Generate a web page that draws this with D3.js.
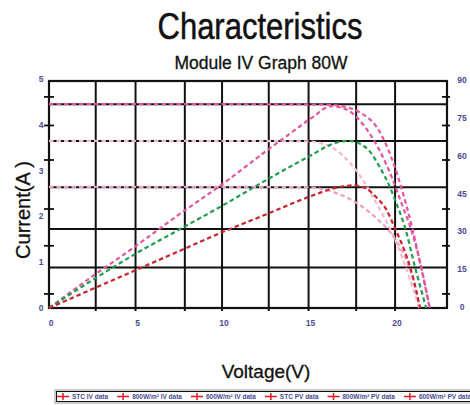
<!DOCTYPE html>
<html>
<head>
<meta charset="utf-8">
<script src="https://cdn.jsdelivr.net/npm/d3@7"></script>
<style>
  body { margin: 0; background: #fff; }
  text { font-family: "Liberation Sans", Arial, sans-serif; }
</style>
</head>
<body>
<div id="chart"></div>
<script>
const width = 470, height = 405;

// voltage (V) -> current (A)
const ivStc = [[0,4.49],[8,4.49],[16,4.48],[17,4.44],[18,4.3],[19,3.95],[19.8,3.3],[20.4,2.6],[21.0,1.75],[21.5,0.9],[22.0,0]];
const iv800 = [[0,3.68],[8,3.68],[15,3.67],[16,3.6],[17,3.35],[18,2.9],[19,2.25],[20,1.5],[20.8,0.7],[21.4,0]];
const iv600 = [[0,2.67],[8,2.67],[15,2.66],[16,2.6],[17,2.47],[18,2.26],[19,1.95],[20,1.52],[20.7,1.0],[21.2,0.4],[21.4,0]];
// voltage (V) -> power (W)
const pvStc = [[0,0],[2.5,12.5],[5,24.5],[7.5,37],[10,49],[12.5,62],[14,69.5],[15.2,75.5],[16.3,80],[17.1,79],[17.8,75.5],[18.5,69.5],[19.1,62.5],[19.8,52],[20.4,41],[21,29.5],[21.5,16.5],[22,0]];
const pv800 = [[0,0],[2.5,11],[5,21.5],[7.5,31],[10,40.5],[12.5,50.5],[15,60],[16.5,65.3],[17.3,66.3],[18,65],[18.55,62],[19.1,56],[19.7,48],[20.0,42.8],[20.6,31.3],[21.16,16],[21.8,0]];
const pv600 = [[0,0],[2.5,7.5],[5,15],[7.5,22.5],[10,30],[12.5,37],[15,44],[16.5,47.5],[17.6,48.6],[18.3,47.5],[18.9,44],[19.5,39],[20,31.5],[20.5,23.5],[20.9,15.5],[21.45,0]];

const seriesNames = ["STC IV data", "800W/m\u00b2 IV data", "600W/m\u00b2 IV data", "STC PV data", "800W/m\u00b2 PV data", "600W/m\u00b2 PV data"];

const xTicks = [0, 5, 10, 15, 20];
const currentTicks = [0, 1, 2, 3, 4, 5];
const powerTicks = [0, 15, 30, 45, 60, 75, 90];
const xGrid = [2.7, 5, 7.85, 10, 12.7, 15, 17.75, 20];
const iGrid = [0.89, 1.74, 2.66, 3.68, 4.49];
const sideMarks = [0.31, 1.37, 2.18, 3.26, 4.02, 4.65];

const svg = d3.select("#chart").append("svg")
    .attr("width", width)
    .attr("height", height);

const x = d3.scaleLinear().domain([0, 23]).range([49, 447]);
const yI = d3.scaleLinear().domain([0, 5]).range([308, 81]);
const yP = d3.scaleLinear().domain([0, 90]).range([308, 81]);

// titles
svg.append("text")
    .attr("x", 260).attr("y", 39)
    .attr("text-anchor", "middle")
    .attr("font-size", 36)
    .attr("textLength", 205)
    .attr("lengthAdjust", "spacingAndGlyphs")
    .attr("fill", "#111")
    .attr("stroke", "#111").attr("stroke-width", 0.5)
    .text("Characteristics");

svg.append("text")
    .attr("x", 261).attr("y", 69)
    .attr("text-anchor", "middle")
    .attr("font-size", 18)
    .attr("textLength", 173)
    .attr("lengthAdjust", "spacingAndGlyphs")
    .attr("fill", "#111")
    .attr("stroke", "#111").attr("stroke-width", 0.3)
    .text("Module IV Graph 80W");

// grid
const grid = svg.append("g").attr("stroke", "#111").attr("stroke-width", 2);
grid.selectAll(".vg").data(xGrid).enter().append("line")
    .attr("x1", d => x(d)).attr("x2", d => x(d))
    .attr("y1", 81).attr("y2", 311);
grid.selectAll(".hg").data(iGrid).enter().append("line")
    .attr("x1", 49).attr("x2", 447)
    .attr("y1", d => yI(d)).attr("y2", d => yI(d));

svg.append("rect")
    .attr("x", 49).attr("y", 81)
    .attr("width", 398).attr("height", 227)
    .attr("fill", "none")
    .attr("stroke", "#111")
    .attr("stroke-width", 2.2);

// side ticks
svg.selectAll(".lt").data(sideMarks).enter().append("line")
    .attr("x1", 44).attr("x2", 54)
    .attr("y1", d => yI(d)).attr("y2", d => yI(d))
    .attr("stroke", "#111").attr("stroke-width", 1.8);
svg.selectAll(".rt").data(sideMarks).enter().append("line")
    .attr("x1", 442).attr("x2", 450)
    .attr("y1", d => yI(d)).attr("y2", d => yI(d))
    .attr("stroke", "#111").attr("stroke-width", 1.8);

// tick labels
const labelColor = "#4a4a96";
svg.selectAll(".xl").data(xTicks).enter().append("text")
    .attr("x", d => x(d) + 2).attr("y", 326)
    .attr("text-anchor", "middle")
    .attr("font-size", 8.5).attr("font-weight", "bold")
    .attr("fill", labelColor)
    .text(d => d);
svg.selectAll(".yl").data(currentTicks).enter().append("text")
    .attr("x", 41).attr("y", d => yI(d) + 3 - d * 0.4)
    .attr("text-anchor", "middle")
    .attr("font-size", 8.5).attr("font-weight", "bold")
    .attr("fill", labelColor)
    .text(d => d);
svg.selectAll(".pl").data(powerTicks).enter().append("text")
    .attr("x", 462).attr("y", d => yP(d) + 2)
    .attr("text-anchor", "middle")
    .attr("font-size", 8.5).attr("font-weight", "bold")
    .attr("fill", labelColor)
    .text(d => d);

// axis titles
svg.append("text")
    .attr("transform", "translate(30,210) rotate(-90)")
    .attr("text-anchor", "middle")
    .attr("font-size", 20)
    .attr("fill", "#111")
    .attr("stroke", "#111").attr("stroke-width", 0.3)
    .text("Current(A )");

svg.append("text")
    .attr("x", 266).attr("y", 378)
    .attr("text-anchor", "middle")
    .attr("font-size", 19)
    .attr("fill", "#111")
    .attr("stroke", "#111").attr("stroke-width", 0.3)
    .text("Voltage(V)");

// curves
const lineI = d3.line().x(d => x(d[0])).y(d => yI(d[1])).curve(d3.curveMonotoneX);
const lineP = d3.line().x(d => x(d[0])).y(d => yP(d[1])).curve(d3.curveMonotoneX);

const curves = [
    { data: ivStc, line: lineI, color: "#e4579d" },
    { data: iv800, line: lineI, color: "#f5b8d3" },
    { data: iv600, line: lineI, color: "#eea0c5" },
    { data: pvStc, line: lineP, color: "#e4579d" },
    { data: pv800, line: lineP, color: "#1f9e50" },
    { data: pv600, line: lineP, color: "#c8242c" }
];

svg.selectAll(".curve").data(curves).enter().append("path")
    .attr("d", d => d.line(d.data))
    .attr("fill", "none")
    .attr("stroke", d => d.color)
    .attr("stroke-width", 2.2)
    .attr("stroke-dasharray", "4.5,3");

// legend
const legend = svg.append("g").attr("transform", "translate(55,390)");
legend.append("rect")
    .attr("x", 0).attr("y", 0)
    .attr("width", 430).attr("height", 13)
    .attr("fill", "#fff")
    .attr("stroke", "#999").attr("stroke-width", 1);
legend.append("rect")
    .attr("x", 1.5).attr("y", 1.5)
    .attr("width", 427).attr("height", 10)
    .attr("fill", "none")
    .attr("stroke", "#111").attr("stroke-width", 1);

let cursor = 2;
seriesNames.forEach(function(name) {
    const item = legend.append("g").attr("transform", `translate(${cursor},0)`);
    item.append("line")
        .attr("x1", 0).attr("x2", 12)
        .attr("y1", 6.5).attr("y2", 6.5)
        .attr("stroke", "#e8141c").attr("stroke-width", 1.5);
    item.append("line")
        .attr("x1", 6).attr("x2", 6)
        .attr("y1", 3).attr("y2", 10)
        .attr("stroke", "#e8141c").attr("stroke-width", 1.5);
    const t = item.append("text")
        .attr("x", 15).attr("y", 8.8)
        .attr("font-size", 6.5).attr("font-weight", "bold")
        .attr("fill", "#4a4a96")
        .text(name);
    cursor += 15 + t.node().getComputedTextLength() + 9;
});
</script>
</body>
</html>
